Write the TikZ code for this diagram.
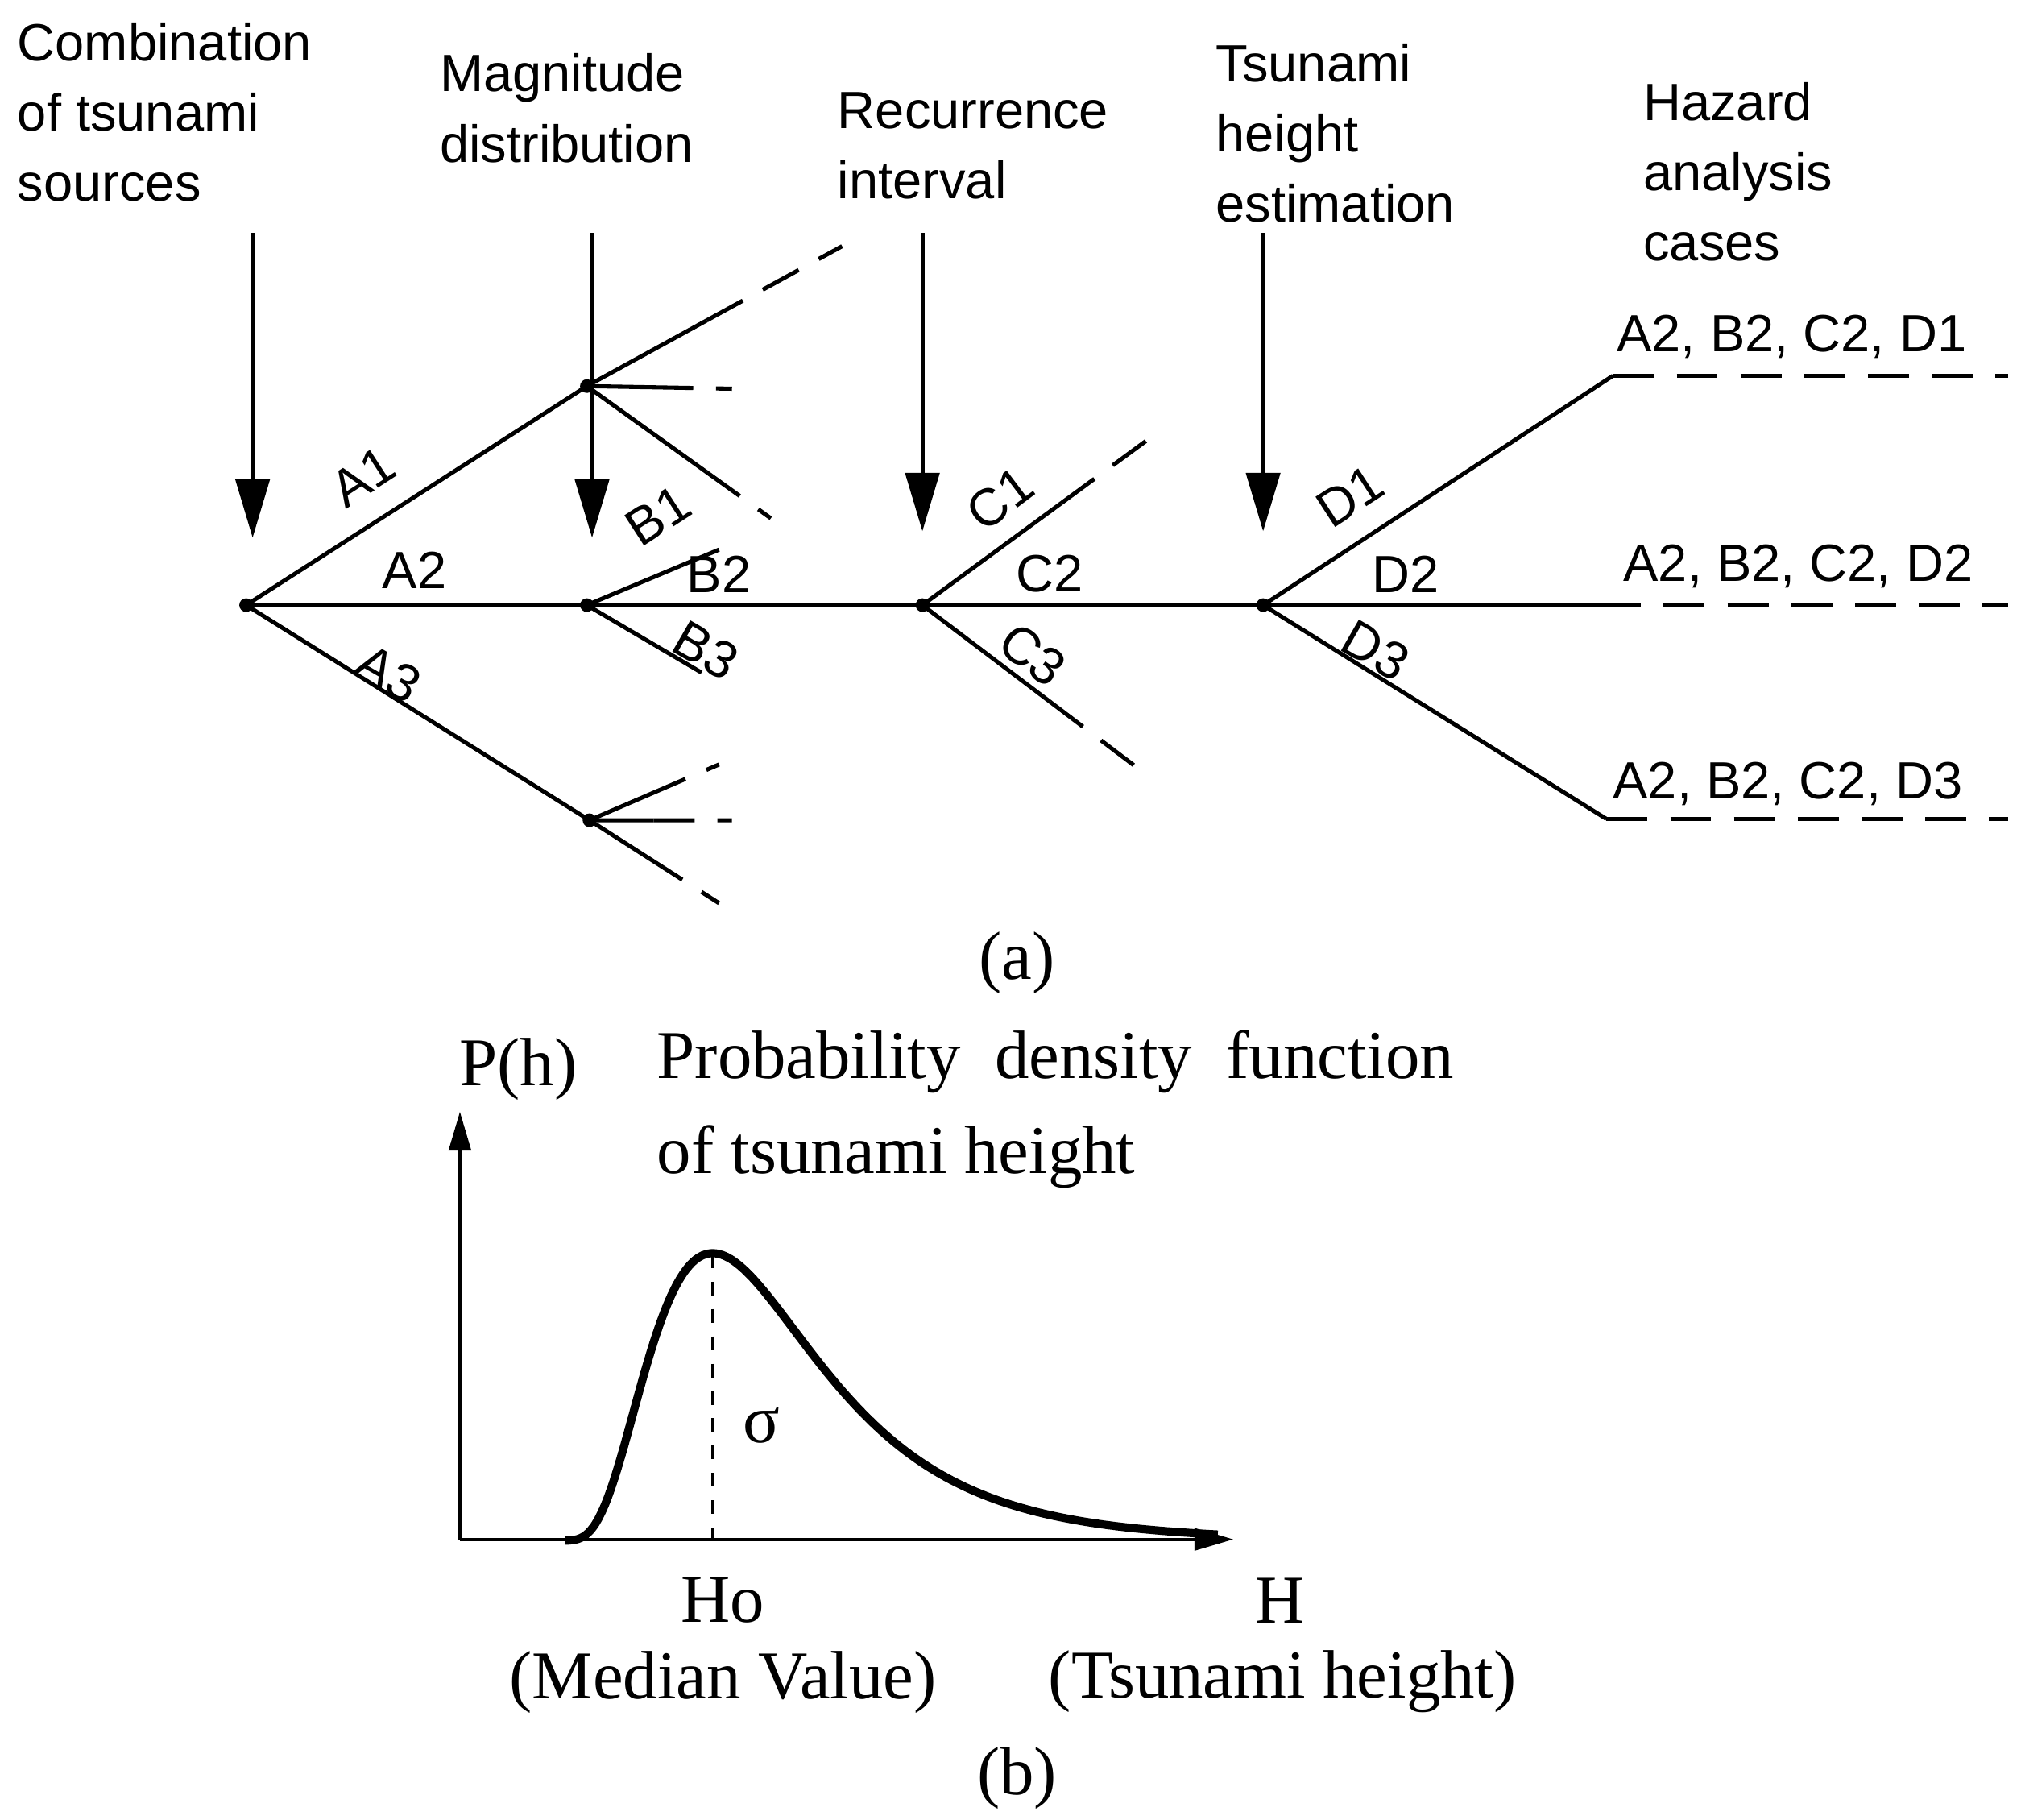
\documentclass[tikz,border=0pt]{standalone}
\usepackage{fontspec}
\setmainfont{Liberation Serif}
\setsansfont{Liberation Sans}
\usetikzlibrary{arrows.meta,calc}
\begin{document}
\begin{tikzpicture}[x=0.01cm,y=-0.01cm,line width=0.9pt,
  hd/.style={font=\sffamily\fontsize{11.5}{15.4}\selectfont,align=left,anchor=north west,inner sep=0pt},
  lb/.style={font=\sffamily\fontsize{11.5}{14}\selectfont,inner sep=0pt},
  sf/.style={font=\fontsize{15}{18}\selectfont,inner sep=1pt},
  dsh/.style={dashed,dash pattern=on 9pt off 5pt},
  bigarrow/.style={-{Triangle[width=0.26cm,length=0.45cm]}},
  dot/.style={circle,fill,inner sep=0pt,minimum size=3pt}]
\useasboundingbox (0,0) rectangle (1560,1404);
% headers
\node[hd] (h1) at (12,16) {Combination\\of tsunami\\sources};
\node[hd] (h2) at (338,40) {Magnitude\\distribution};
\node[hd] (h3) at (645,70) {Recurrence\\interval};
\node[hd] (h4) at (937,32) {Tsunami\\height\\estimation};
\node[hd] (h5) at (1267,62) {Hazard\\analysis\\cases};
% arrows
\coordinate (a1s) at (195,180); \coordinate (a1e) at (195,415);
\coordinate (a2s) at (457,180); \coordinate (a2e) at (457,415);
\coordinate (a3s) at (712,180); \coordinate (a3e) at (712,410);
\coordinate (a4s) at (975,180); \coordinate (a4e) at (975,410);
\foreach \i in {1,2,3,4} \draw[bigarrow] (a\i s) -- (a\i e);
% nodes
\node[dot] (r) at (190,467) {};
\node[dot] (bt) at (453,298) {};
\node[dot] (bm) at (453,467) {};
\node[dot] (bb) at (455,633) {};
\node[dot] (c) at (712,467) {};
\node[dot] (d) at (975,467) {};
\coordinate (mainend) at (1235,467);
\coordinate (mainfar) at (1550,467);
\draw (r.center) -- (bt.center);
\draw (r.center) -- (bb.center);
\draw (r.center) -- (mainend);
\draw[dsh] (mainend) -- (mainfar);
\node[lb,rotate=33] (la1) at (280,368) {A1};
\node[lb] (la2) at (320,440) {A2};
\node[lb,rotate=-30] (la3) at (300,520) {A3};
% B top
\coordinate (q1) at (650,190); \coordinate (q2) at (565,300); \coordinate (q3) at (595,400);
\foreach \i/\f in {1/0.47,2/0.45,3/0.65} {\draw (bt.center) -- ($(bt)!\f!(q\i)$); \draw[dsh] ($(bt)!\f!(q\i)$) -- (q\i);}
% B middle
\coordinate (q4) at (565,420); \coordinate (q5) at (555,527);
\foreach \i/\f in {4/0.65,5/0.6} {\draw (bm.center) -- ($(bm)!\f!(q\i)$); \draw[dsh] ($(bm)!\f!(q\i)$) -- (q\i);}
\node[lb,rotate=33] (lb1) at (508,398) {B1};
\node[lb] (lb2) at (555,443) {B2};
\node[lb,rotate=-30] (lb3) at (545,502) {B3};
% B bottom
\coordinate (q6) at (555,590); \coordinate (q7) at (565,633); \coordinate (q8) at (555,697);
\foreach \i in {6,7,8} {\draw (bb.center) -- ($(bb)!0.45!(q\i)$); \draw[dsh] ($(bb)!0.45!(q\i)$) -- (q\i);}
% C
\coordinate (q9) at (885,340); \coordinate (q10) at (885,598);
\foreach \i/\f in {9/0.62,10/0.57} {\draw (c.center) -- ($(c)!\f!(q\i)$); \draw[dsh] ($(c)!\f!(q\i)$) -- (q\i);}
\node[lb,rotate=37] (lc1) at (772,385) {C1};
\node[lb] (lc2) at (810,443) {C2};
\node[lb,rotate=-37] (lc3) at (797,505) {C3};
% D
\coordinate (p11) at (1245,290); \coordinate (q11) at (1550,290);
\coordinate (p12) at (1240,632); \coordinate (q12) at (1550,632);
\foreach \i in {11,12} {\draw (d.center) -- (p\i); \draw[dsh] (p\i) -- (q\i);}
\node[lb,rotate=33] (ld1) at (1042,383) {D1};
\node[lb] (ld2) at (1085,443) {D2};
\node[lb,rotate=-30] (ld3) at (1062,502) {D3};
% cases
\node[lb] (k1) at (1383,260) {A2, B2, C2, D1};
\node[lb] (k2) at (1388,437) {A2, B2, C2, D2};
\node[lb] (k3) at (1380,605) {A2, B2, C2, D3};
\node[sf] (ca) at (785,743) {(a)};
% part b
\coordinate (o) at (355,1188);
\coordinate (yt) at (355,858);
\coordinate (xt) at (952,1188);
\draw[-{Triangle[width=0.17cm,length=0.3cm]},line width=0.7pt] (o) -- (yt);
\draw[-{Triangle[width=0.17cm,length=0.3cm]},line width=0.7pt] (o) -- (xt);
\draw[line width=1.8pt,line join=round] plot[domain=436:940,samples=200,smooth] (\x,{1189-222*exp(-((ln(\x-420)-5.118)^2)/0.5)/(\x-420)/0.006785});
\coordinate (pk) at (550,968); \coordinate (pb) at (550,1188);
\draw[dashed,line width=0.6pt] (pk) -- (pb);
\node[sf] (sg) at (588,1100) {σ};
\node[sf] (ph) at (400,825) {P(h)};
\node[sf,align=left,anchor=west,font=\fontsize{15}{21}\selectfont] (pdf) at (502,856) {Probability\ \ density\ \ function\\of tsunami height};
\node[sf] (ho) at (558,1235) {Ho};
\node[sf] (mv) at (558,1298) {(Median Value)};
\node[sf] (hh) at (988,1235) {H};
\node[sf] (th) at (990,1298) {(Tsunami height)};
\node[sf] (cb) at (785,1372) {(b)};
\end{tikzpicture}
\end{document}
